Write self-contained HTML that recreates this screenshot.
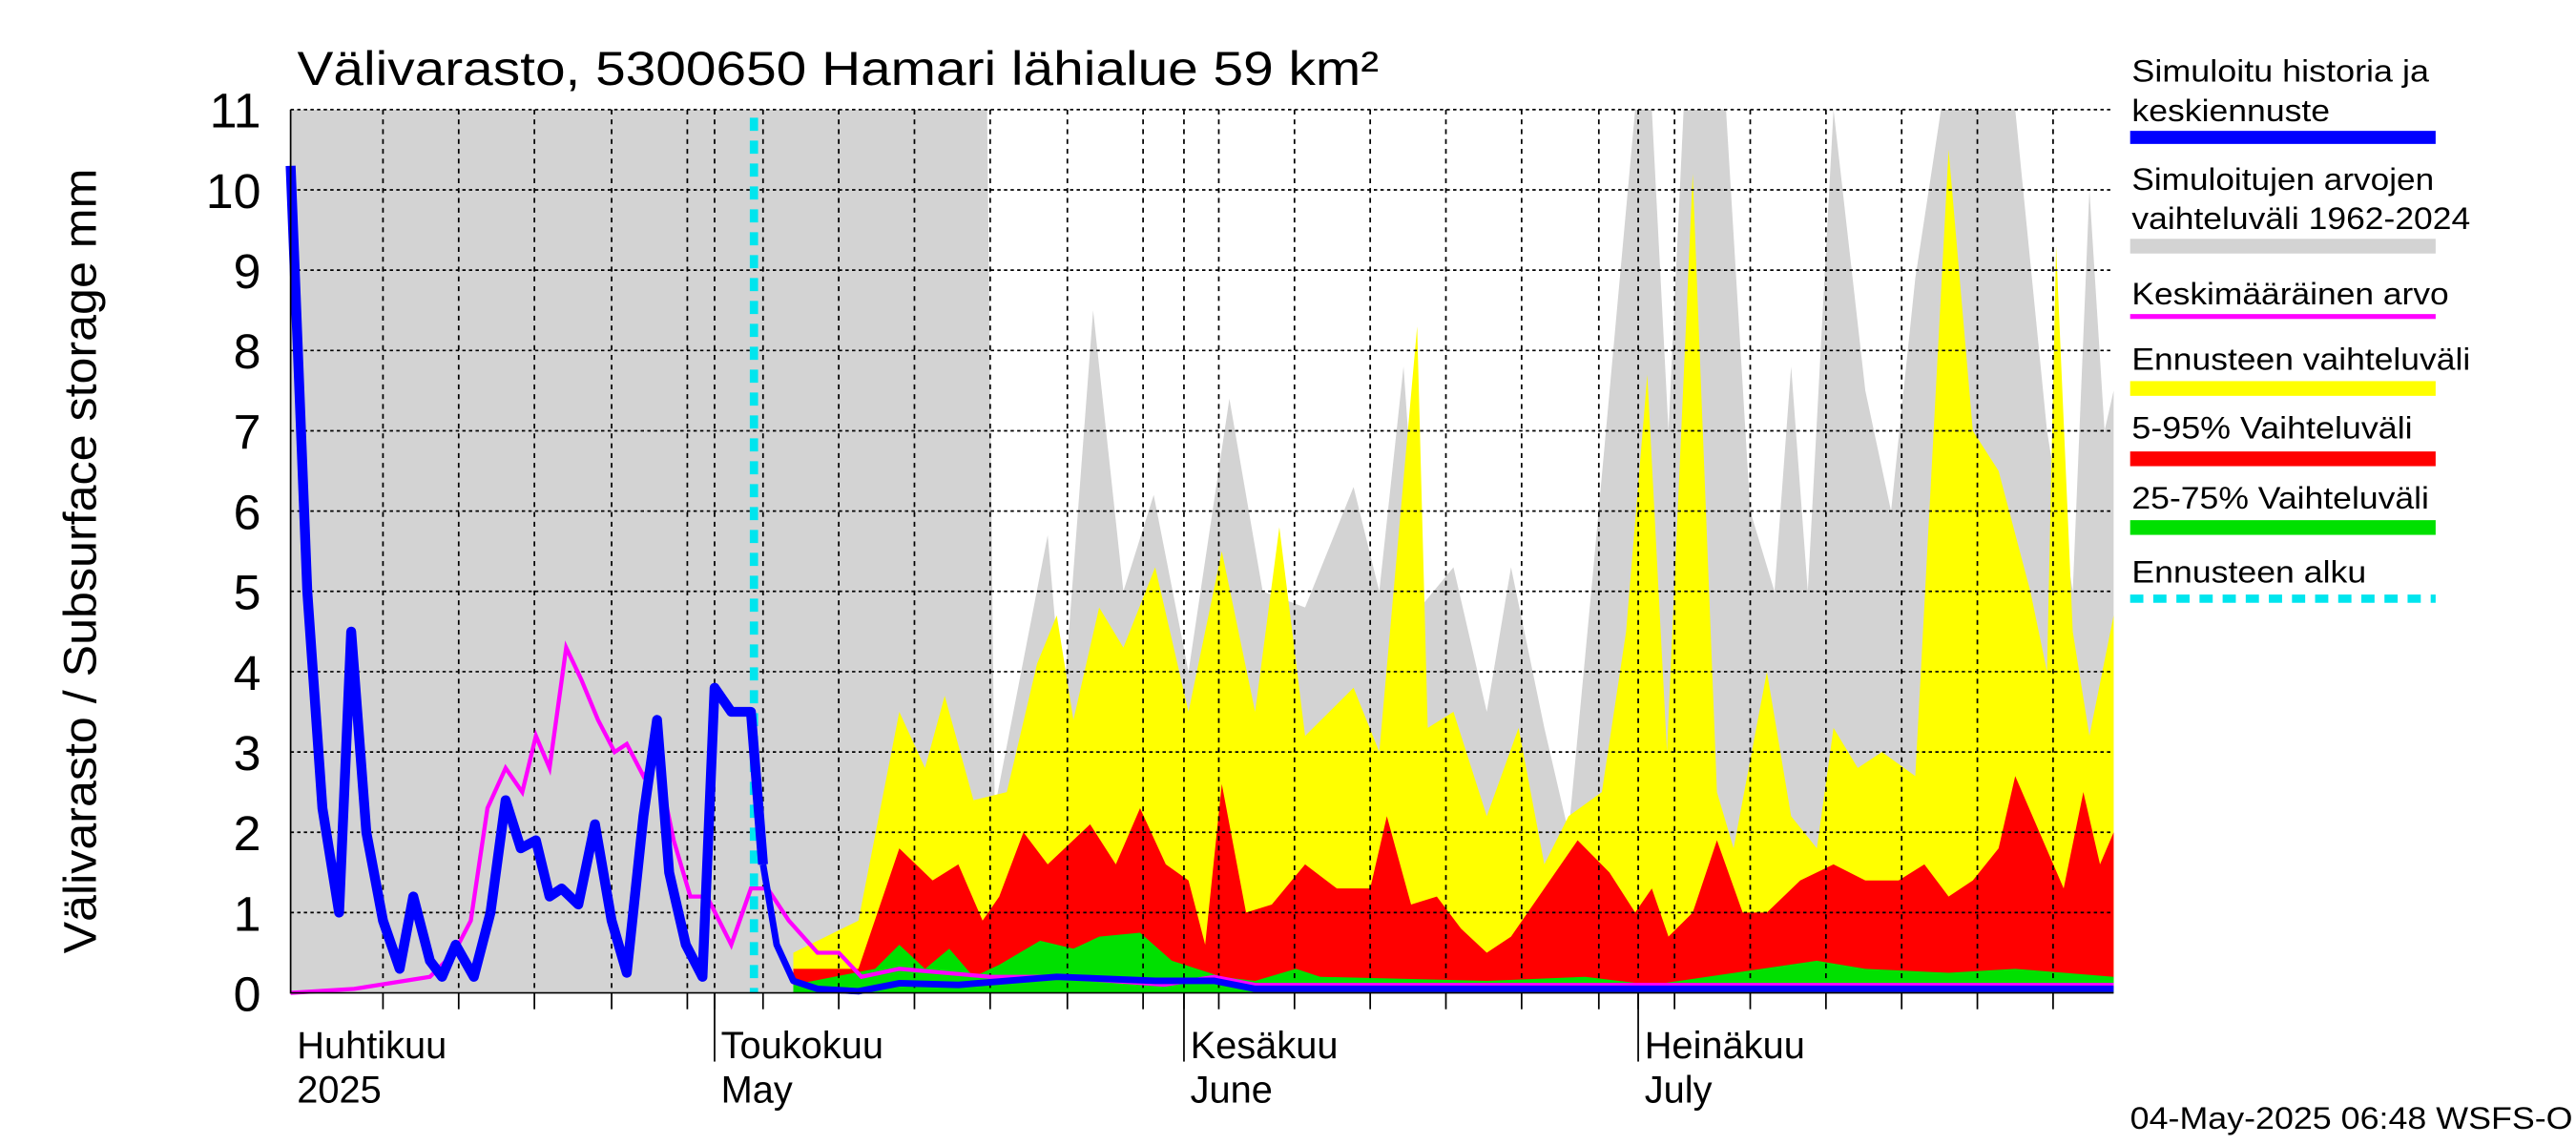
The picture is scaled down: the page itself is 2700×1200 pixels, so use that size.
<!DOCTYPE html>
<html><head><meta charset="utf-8"><style>
html,body{margin:0;padding:0;background:#fff}
svg{display:block}
text{font-family:"Liberation Sans",sans-serif}
</style></head><body>
<svg id="chart" width="2700" height="1200" viewBox="0 0 1560 700" preserveAspectRatio="none" xmlns="http://www.w3.org/2000/svg">
<g id="plot"></g>
<text x="180" y="52" font-size="29" textLength="655" lengthAdjust="spacingAndGlyphs">Välivarasto, 5300650 Hamari lähialue 59 km²</text>
<text transform="translate(58,343) rotate(-90)" text-anchor="middle" font-size="28" textLength="480" lengthAdjust="spacingAndGlyphs">Välivarasto / Subsurface storage  mm</text>
<g font-size="19">
<text x="1291" y="50" textLength="180" lengthAdjust="spacingAndGlyphs">Simuloitu historia ja</text>
<text x="1291" y="74" textLength="120" lengthAdjust="spacingAndGlyphs">keskiennuste</text>
<rect x="1290" y="80" width="185" height="8" fill="#0000ff"/>
<text x="1291" y="116" textLength="183" lengthAdjust="spacingAndGlyphs">Simuloitujen arvojen</text>
<text x="1291" y="140" textLength="205" lengthAdjust="spacingAndGlyphs">vaihteluväli 1962-2024</text>
<rect x="1290" y="146" width="185" height="9" fill="#d3d3d3"/>
<text x="1291" y="186" textLength="192" lengthAdjust="spacingAndGlyphs">Keskimääräinen arvo</text>
<rect x="1290" y="192" width="185" height="3" fill="#ff00ff"/>
<text x="1291" y="226" textLength="205" lengthAdjust="spacingAndGlyphs">Ennusteen vaihteluväli</text>
<rect x="1290" y="233" width="185" height="9" fill="#ffff00"/>
<text x="1291" y="268" textLength="170" lengthAdjust="spacingAndGlyphs">5-95% Vaihteluväli</text>
<rect x="1290" y="276" width="185" height="9" fill="#ff0000"/>
<text x="1291" y="311" textLength="180" lengthAdjust="spacingAndGlyphs">25-75% Vaihteluväli</text>
<rect x="1290" y="318" width="185" height="9" fill="#00e000"/>
<text x="1291" y="356" textLength="142" lengthAdjust="spacingAndGlyphs">Ennusteen alku</text>
<line x1="1290" y1="366" x2="1475" y2="366" stroke="#00e5ee" stroke-width="5" stroke-dasharray="8,6"/>
</g>
<text x="1290" y="690" font-size="19" textLength="268" lengthAdjust="spacingAndGlyphs">04-May-2025 06:48 WSFS-O</text>
</svg>
<script>
const grayDays=[0,46,46.5,50,51,53,55,57,59.3,62,64.2,67,70.2,71.9,73.5,74.6,76.8,79,80.6,82.8,84.4,86,88.8,89.9,91,92,94.8,96.4,98,99.1,100.2,101.9,104,105.7,107.3,109,113.9,116,117.7,118.8,119.8,120.4];
const grayMax=[11,11,2.3,5.7,3.5,8.5,5,6.2,4,7.4,5,4.8,6.3,5,7.8,4.8,5.3,3.5,5.3,3.3,2,5.2,11,11,7,11,11,6,5,7.8,5,11,7.5,6,8.9,11,11,7,5,10,7,7.5];
const yelDays=[33.2,37.5,40.2,41.9,43.2,45.1,47.3,49.3,50.6,51.7,53.4,55,57.1,59.3,61.5,63.7,65.3,67,70.2,71.9,74.4,75.1,76.8,79,81.1,82.8,84.4,86.6,88.2,89.6,90.9,92.6,94.2,95.3,97.5,99.1,100.8,101.9,103.5,105.1,107.3,109.5,111.1,112.8,114.9,116,116.6,117.7,118.8,120.4];
const yelMax=[0.5,0.9,3.5,2.8,3.7,2.4,2.5,4.1,4.7,3.4,4.8,4.3,5.3,3.5,5.5,3.5,5.8,3.2,3.8,3,8.3,3.3,3.5,2.2,3.3,1.6,2.2,2.5,4.5,7.7,3,10.2,2.5,1.8,4,2.2,1.8,3.3,2.8,3,2.7,10.5,7,6.5,5,4,9.3,4.5,3.2,4.7];
const redDays=[33.2,37.5,40.2,42.4,44.1,45.7,46.8,48.4,50,52.8,54.5,56.1,57.8,59.3,60.4,61.5,63.1,64.8,67,69.1,71.3,72.4,74,75.7,77.3,79,80.6,82.8,85,87.1,88.8,89.9,91,92.6,94.2,95.9,97.5,99.7,101.9,104,106.2,107.9,109.5,111.1,112.8,113.9,115.5,117.1,118.4,119.5,120.4];
const redMax=[0.3,0.3,1.8,1.4,1.6,0.9,1.2,2.0,1.6,2.1,1.6,2.3,1.6,1.4,0.6,2.6,1.0,1.1,1.6,1.3,1.3,2.2,1.1,1.2,0.8,0.5,0.7,1.3,1.9,1.5,1.0,1.3,0.7,1.0,1.9,1.0,1.0,1.4,1.6,1.4,1.4,1.6,1.2,1.4,1.8,2.7,2.0,1.3,2.5,1.6,2.0];
const greenDays=[33.2,38.6,40.2,41.9,43.5,45.1,46.8,49.5,51.7,53.4,56.1,58.2,61.5,63.7,66.4,68,79,85.5,89.9,100.8,104,109.5,113.9,120.4];
const greenMax=[0.1,0.3,0.6,0.3,0.55,0.2,0.35,0.65,0.55,0.7,0.75,0.4,0.2,0.15,0.3,0.2,0.15,0.2,0.1,0.4,0.3,0.25,0.3,0.2];
const blueDays=[0,1.1,2.1,3.2,4,5,6.1,7.2,8.1,9.2,10,10.9,12.1,13.2,14.2,15.2,16.2,17.1,17.9,19,20.1,21.2,22.2,23.3,24.2,25,26.1,27.2,28,29.1,29.9,30.4,31.2,32.1,33.2,34.8,37.5,40.2,44.1,50.6,57.1,61,63.7,68,120.4];
const blueVals=[10.3,5,2.3,1.0,4.5,2,0.9,0.3,1.2,0.4,0.2,0.6,0.2,1.0,2.4,1.8,1.9,1.2,1.3,1.1,2.1,0.9,0.25,2.2,3.4,1.5,0.6,0.2,3.8,3.5,3.5,3.5,1.6,0.6,0.15,0.05,0.02,0.12,0.1,0.2,0.15,0.15,0.05,0.05,0.05];
const magDays=[0,4.2,9.2,10.8,11.9,13,14.2,15.3,16.2,17.1,18.2,19.2,20.3,21.4,22.2,23.3,24.2,25.3,26.4,27.5,29.1,30.4,31.5,32.9,34.8,36.2,37.7,40.2,46.2,50.6,57.7,61,63.7,120.4];
const magVals=[0,0.05,0.2,0.5,0.9,2.3,2.8,2.5,3.2,2.8,4.3,3.9,3.4,3.0,3.1,2.7,2.9,1.9,1.2,1.2,0.6,1.3,1.3,0.9,0.5,0.5,0.2,0.3,0.2,0.2,0.1,0.2,0.1,0.1];
const yTicks=[0,1,2,3,4,5,6,7,8,9,10,11];
const gridDays=[6.1,11.1,16.1,21.2,26.2,31.2,36.2,41.2,46.2,51.3,56.3,61.3,66.3,71.3,76.3,81.3,86.4,91.4,96.4,101.4,106.4,111.4,116.4];
const monthDays=[28,59,89];
const monthLabels=[["Huhtikuu","2025"],["Toukokuu","May"],["Kesäkuu","June"],["Heinäkuu","July"]];
const monthLabelDays=[0.2,28.2,59.2,89.2];
const forecastDay=30.6;

const X0=176,X1=1280,Y0=607,Y1=67,DMAX=120.4,VMAX=11;
const xs=d=>X0+d*(X1-X0)/DMAX;
const ys=v=>Y0-v*(Y0-Y1)/VMAX;
const NS="http://www.w3.org/2000/svg";
const plot=document.getElementById('plot');
function mk(tag,attrs){const e=document.createElementNS(NS,tag);for(const k in attrs)e.setAttribute(k,attrs[k]);plot.appendChild(e);return e;}
function area(days,vals){let p=`M${xs(days[0])},${ys(0)}`;days.forEach((d,i)=>p+=` L${xs(d)},${ys(vals[i])}`);p+=` L${xs(days[days.length-1])},${ys(0)} Z`;return p;}
function line(days,vals){return days.map((d,i)=>(i?'L':'M')+xs(d)+','+ys(vals[i])).join(' ');}

let g=mk('path',{d:area(grayDays,grayMax),fill:'#d3d3d3'});


let yA=mk('path',{d:area(yelDays,yelMax),fill:'#ffff00'});


let rA=mk('path',{d:area(redDays,redMax),fill:'#ff0000'});


let gA=mk('path',{d:area(greenDays,greenMax),fill:'#00e000'});



yTicks.forEach(v=>{
  if(v>0){const l=mk('line',{x1:X0,x2:X1,y1:ys(v),y2:ys(v),stroke:'#000','stroke-width':1,'stroke-dasharray':'2,2'});
  
  }
  const t=mk('text',{x:158,y:ys(v)+11,'text-anchor':'end','font-size':30});
  
  
  t.textContent=v;
});
gridDays.concat(monthDays).forEach(d=>{
  const l=mk('line',{x1:xs(d),x2:xs(d),y1:Y1,y2:Y0,stroke:'#000','stroke-width':1,'stroke-dasharray':'3,3'});
  
  
  const tk=mk('line',{x1:xs(d),x2:xs(d),y1:Y0,y2:Y0+10,stroke:'#000','stroke-width':1});
  
  
});
monthDays.forEach(d=>{
  const tk=mk('line',{x1:xs(d),x2:xs(d),y1:Y0,y2:Y0+42,stroke:'#000','stroke-width':1});
  
  
});
monthLabels.forEach((lb,i)=>{
  const x=xs(monthLabelDays[i])+2;
  const t1=mk('text',{x:x,y:647,'font-size':23});
  
  
  t1.textContent=lb[0];
  const t2=mk('text',{x:x,y:674,'font-size':23});
  
  
  t2.textContent=lb[1];
});
const fc=mk('line',{x1:xs(forecastDay),x2:xs(forecastDay),y1:Y1+5,y2:Y0,stroke:'#00e5ee','stroke-width':5,'stroke-dasharray':'8,6'});


const mL=mk('path',{d:line(magDays,magVals),fill:'none',stroke:'#ff00ff','stroke-width':2.5});


const cut=blueDays.findIndex(d=>d>forecastDay);
const bL=mk('path',{d:line(blueDays.slice(0,cut+1),blueVals.slice(0,cut+1)),fill:'none',stroke:'#0000ff','stroke-width':6,'stroke-linejoin':'round'});


const bF=mk('path',{d:line(blueDays.slice(cut),blueVals.slice(cut)),fill:'none',stroke:'#0000ff','stroke-width':4,'stroke-linejoin':'round'});


const ax=mk('path',{d:`M${X0},${Y1} L${X0},${Y0} L${X1},${Y0}`,fill:'none',stroke:'#000','stroke-width':1});


</script>
</body></html>
